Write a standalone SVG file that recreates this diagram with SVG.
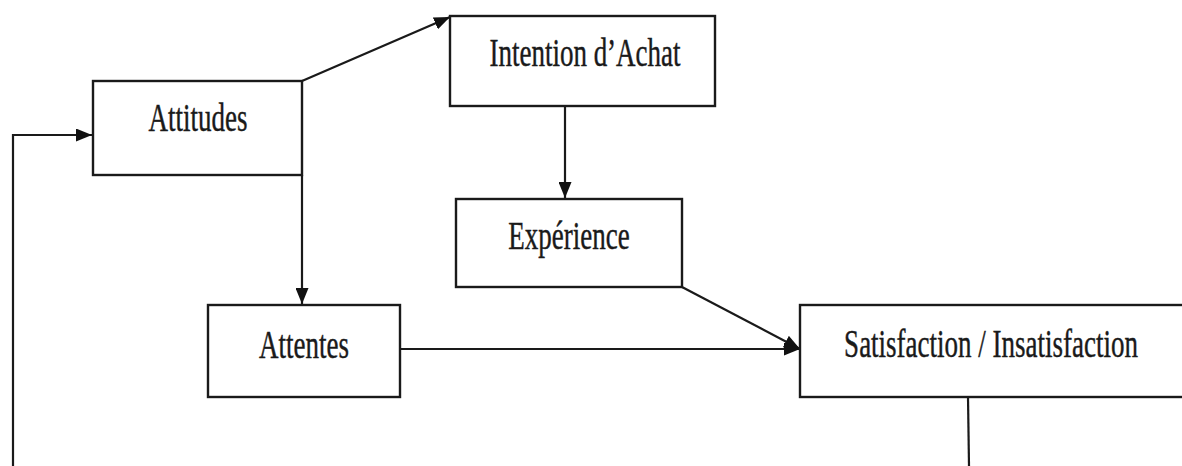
<svg xmlns="http://www.w3.org/2000/svg" width="1182" height="466" viewBox="0 0 1182 466">
<style>
.box{fill:#fff;stroke:#1a1a1a;stroke-width:2.4}
.lbl{font-family:"Liberation Serif","Times New Roman",serif;font-size:27px;fill:#1a1a1a;stroke:#1a1a1a;stroke-width:0.3;text-anchor:middle}
.con{fill:none;stroke:#1a1a1a;stroke-width:2.2}
</style>
<defs>
<marker id="ah" viewBox="0 0 16 13" refX="16" refY="6.5" markerWidth="16" markerHeight="13" markerUnits="userSpaceOnUse" orient="auto">
<path d="M0,0 L16,6.5 L0,13 Z" fill="#111"/>
</marker>
</defs>
<rect width="1182" height="466" fill="#fff"/>
<g id="connectors">
<polyline class="con" points="13,466 13,135 92,135" marker-end="url(#ah)"/>
<line class="con" x1="302" y1="81" x2="450" y2="17" marker-end="url(#ah)"/>
<line class="con" x1="302" y1="175" x2="302" y2="304" marker-end="url(#ah)"/>
<line class="con" x1="565" y1="106" x2="565" y2="198" marker-end="url(#ah)"/>
<line class="con" x1="682" y1="287" x2="800" y2="349" marker-end="url(#ah)"/>
<line class="con" x1="400" y1="349" x2="800" y2="349" marker-end="url(#ah)"/>
<line class="con" x1="968" y1="397" x2="969" y2="466"/>
</g>
<g id="attitudes">
<rect class="box" x="93" y="81" width="209" height="94"/>
<text class="lbl" transform="translate(198,131) scale(1,1.45)">Attitudes</text>
</g>
<g id="intention">
<rect class="box" x="450" y="16" width="265" height="90"/>
<text class="lbl" transform="translate(585,66) scale(1,1.45)">Intention d’Achat</text>
</g>
<g id="experience">
<rect class="box" x="456" y="199" width="226" height="88"/>
<text class="lbl" transform="translate(569,249) scale(1,1.45)">Expérience</text>
</g>
<g id="attentes">
<rect class="box" x="208" y="305" width="192" height="92"/>
<text class="lbl" transform="translate(304,358) scale(1,1.45)">Attentes</text>
</g>
<g id="satisfaction">
<rect class="box" x="800" y="305" width="400" height="92"/>
<text class="lbl" transform="translate(991,357) scale(1,1.45)">Satisfaction / Insatisfaction</text>
</g>
</svg>
